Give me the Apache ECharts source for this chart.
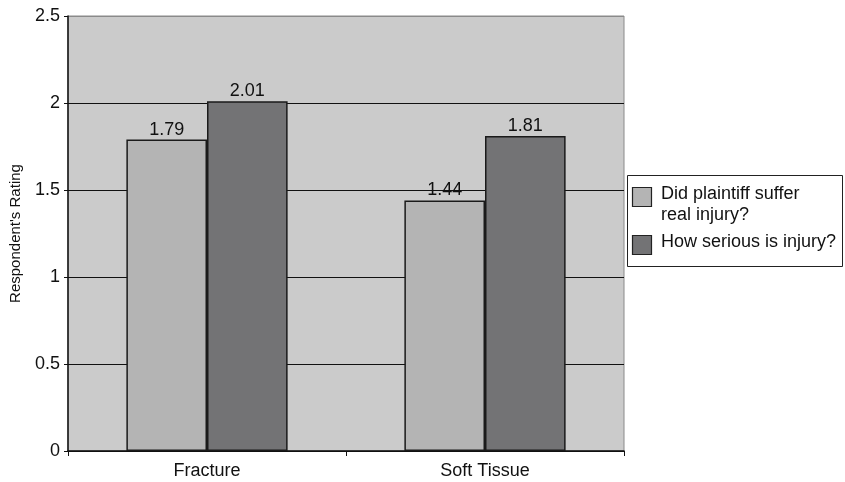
<!DOCTYPE html>
<html>
<head>
<meta charset="utf-8">
<script src="https://cdn.jsdelivr.net/npm/echarts@6/dist/echarts.min.js"></script>
<style>html,body{margin:0;padding:0;background:#fff}#c{width:845px;height:482px}</style>
</head>
<body>
<div id="c"></div>
<script>
var categories = ['Fracture', 'Soft Tissue'];
var seriesNames = ['Did plaintiff suffer\nreal injury?', 'How serious is injury?'];
var realInjury = [1.79, 1.44];
var seriousness = [2.01, 1.81];
var seriesColors = ['#b4b4b4', '#737375'];
var yTicks = [0, 0.5, 1, 1.5, 2, 2.5];

var chart = echarts.init(document.getElementById('c'));
var font = 'Liberation Sans, Arial, sans-serif';
function mk(name, data, color) {
  return {
    name: name, type: 'bar', data: data,
    barGap: '0%', barCategoryGap: '42%',
    itemStyle: { color: color, borderColor: '#1a1a1a', borderWidth: 1.5 },
    label: { show: true, position: 'top', distance: 1, color: '#111', fontFamily: font, fontSize: 18,
      formatter: function (p) { return p.value.toFixed(2); } },
    emphasis: { disabled: true }
  };
}
var legendGraphics = [
  { type: 'rect', shape: { x: 627.5, y: 175.5, width: 215, height: 91 },
    style: { fill: '#fff', stroke: '#222', lineWidth: 1 } }
];
var legendRows = [187, 235];
seriesNames.forEach(function (n, i) {
  legendGraphics.push({ type: 'rect', shape: { x: 632.5, y: legendRows[i] + 0.5, width: 19, height: 19 },
    style: { fill: seriesColors[i], stroke: '#222', lineWidth: 1.2 } });
  legendGraphics.push({ type: 'text', x: 661, y: legendRows[i] - 3,
    style: { text: n, fill: '#111', font: '18px ' + font, lineHeight: 21, textVerticalAlign: 'top' } });
});
chart.setOption({
  animation: false,
  grid: { left: 68, right: 221, top: 16, bottom: 31, outerBoundsMode: 'none', containLabel: false,
    show: true, backgroundColor: '#cbcbcb', borderColor: '#8a8a8a', borderWidth: 1 },
  xAxis: {
    type: 'category', data: categories,
    axisLine: { lineStyle: { color: '#111', width: 1.5 } },
    axisTick: { show: true, length: 5, lineStyle: { color: '#111' } },
    axisLabel: { color: '#111', fontFamily: font, fontSize: 18, margin: 11 }
  },
  yAxis: {
    type: 'value', min: yTicks[0], max: yTicks[yTicks.length - 1], interval: 0.5,
    name: "Respondent's Rating", nameLocation: 'middle', nameGap: 45,
    nameTextStyle: { color: '#111', fontFamily: font, fontSize: 15 },
    axisLine: { show: true, lineStyle: { color: '#111', width: 1.5 } },
    axisTick: { show: true, length: 4, lineStyle: { color: '#111' } },
    axisLabel: { color: '#111', fontFamily: font, fontSize: 18, margin: 8 },
    splitLine: { show: true, lineStyle: { color: ['#111', '#111', '#111', '#111', '#111', '#8a8a8a'], width: 1 } }
  },
  series: [mk(seriesNames[0], realInjury, seriesColors[0]), mk(seriesNames[1], seriousness, seriesColors[1])],
  graphic: legendGraphics
});
</script>
</body>
</html>
